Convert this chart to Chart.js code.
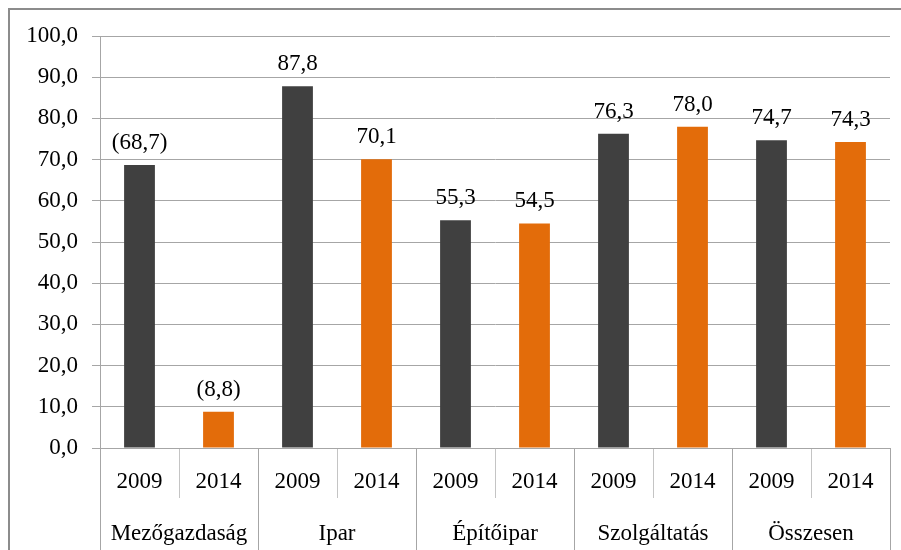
<!DOCTYPE html>
<html>
<head>
<meta charset="utf-8">
<script src="https://cdn.jsdelivr.net/npm/chart.js@4/dist/chart.umd.min.js"></script>
<style>
html, body { margin: 0; padding: 0; background: #fff; overflow: hidden; }
#wrap { position: relative; width: 901px; height: 550px; overflow: hidden; }
#frame { position: absolute; left: 8px; top: 8px; width: 1000px; height: 1000px; border: 2px solid #8c8c8c; box-sizing: border-box; }
#chart { position: absolute; left: 0; top: 0; }
</style>
</head>
<body>
<div id="wrap">
  <div id="frame"></div>
  <canvas id="chart" width="901" height="550"></canvas>
</div>
<script>
// Adatok
const groups = ['Mezőgazdaság', 'Ipar', 'Építőipar', 'Szolgáltatás', 'Összesen'];
const years = ['2009', '2014'];
const values2009 = [68.7, 87.8, 55.3, 76.3, 74.7];
const values2014 = [8.8, 70.1, 54.5, 78.0, 74.3];
const bracketed = [true, false, false, false, false];
const yMin = 0;
const yMax = 100;
const yStep = 10;

// Szinek
const color2009 = '#404040';
const color2014 = '#E36C0A';
const gridColor = '#a6a6a6';
const gridLight = '#c4c4c4';
const fontFamily = "'Liberation Serif', 'Times New Roman', serif";
const fontSize = 23;

const fmt = (v) => v.toFixed(1).replace('.', ',');

const barLabels = groups.flatMap(() => years);
const barValues = groups.flatMap((g, i) => [values2009[i], values2014[i]]);
const barColors = groups.flatMap(() => [color2009, color2014]);
const barTexts = groups.flatMap((g, i) => [values2009[i], values2014[i]].map(v => bracketed[i] ? '(' + fmt(v) + ')' : fmt(v)));

Chart.defaults.font.family = fontFamily;
Chart.defaults.font.size = fontSize;
Chart.defaults.color = '#000';

const valueLabels = {
    id: 'valueLabels',
    afterDatasetsDraw: (chart) => {
        const ctx = chart.ctx;
        const meta = chart.getDatasetMeta(0);
        ctx.save();
        ctx.font = fontSize + 'px ' + fontFamily;
        ctx.fillStyle = '#000';
        ctx.textAlign = 'center';
        ctx.textBaseline = 'alphabetic';
        meta.data.forEach((bar, i) => {
            ctx.fillText(barTexts[i], bar.x, bar.y - 16);
        });
        ctx.restore();
    }
};

new Chart(document.getElementById('chart'), {
    type: 'bar',
    data: {
        labels: barLabels,
        datasets: [{
            data: barValues,
            backgroundColor: barColors,
            borderWidth: 0,
            barPercentage: 0.39,
            categoryPercentage: 1
        }]
    },
    options: {
        responsive: false,
        animation: false,
        layout: { padding: { left: 0, top: 36, right: 11, bottom: 0 } },
        plugins: {
            legend: { display: false },
            tooltip: { enabled: false }
        },
        scales: {
            y: {
                min: yMin,
                max: yMax,
                ticks: {
                    stepSize: yStep,
                    padding: 14,
                    callback: (v) => fmt(v)
                },
                grid: { color: gridColor, tickLength: 8 },
                border: { color: gridColor },
                afterFit: (scale) => { scale.width = 100; }
            },
            x: {
                weight: 0,
                offset: true,
                ticks: { padding: -30, maxRotation: 0, autoSkip: false },
                grid: {
                    offset: true,
                    drawOnChartArea: false,
                    tickLength: 50,
                    color: (c) => c.index % 2 === 1 ? gridLight : gridColor
                },
                border: { color: gridColor },
                afterFit: (scale) => { scale.height = 50; }
            },
            x2: {
                type: 'category',
                labels: groups,
                position: 'bottom',
                weight: 1,
                offset: true,
                ticks: { padding: -38, maxRotation: 0, autoSkip: false },
                grid: {
                    offset: true,
                    drawOnChartArea: false,
                    tickLength: 60,
                    color: gridColor
                },
                border: { display: false },
                afterFit: (scale) => { scale.height = 52; }
            }
        }
    },
    plugins: [valueLabels]
});
</script>
</body>
</html>
